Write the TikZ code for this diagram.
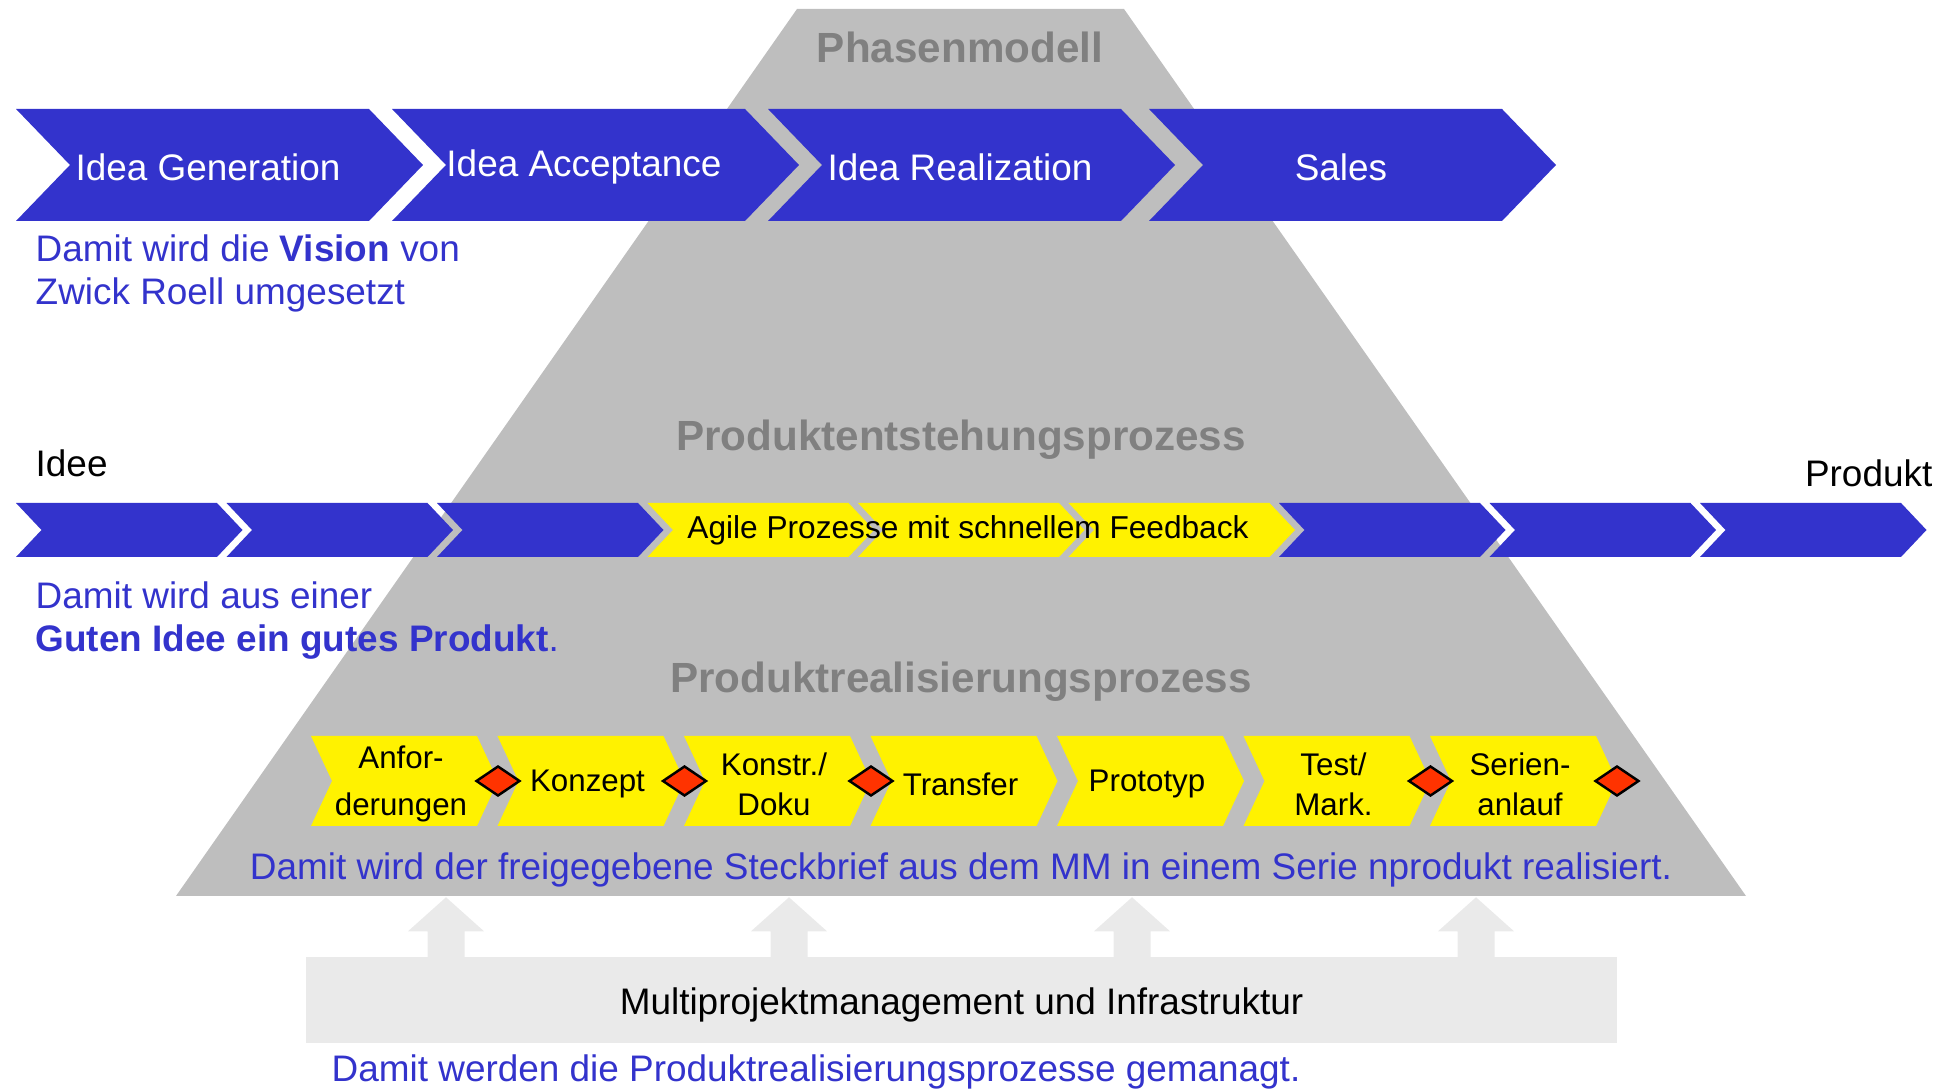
\documentclass[tikz,border=0pt]{standalone}
\usepackage{fontspec}
\setmainfont{Liberation Sans}
\usetikzlibrary{shapes.geometric}

\definecolor{chevblue}{RGB}{51,51,204}
\definecolor{pyrgray}{RGB}{190,190,190}
\definecolor{headgray}{RGB}{128,128,128}
\definecolor{mpmgray}{RGB}{234,234,234}
\definecolor{msred}{RGB}{255,51,0}

% chevron: colour, left x, top y, width, height, tip depth
\newcommand{\chevronpath}[6]{%
  \fill[#1] (#2,#3) -- ++(#4,0) -- ++(#6,#5/2) -- ++(-#6,#5/2)
            -- ++(-#4,0) -- ++(#6,-#5/2) -- cycle;}

\begin{document}
\begin{tikzpicture}[x=0.01cm, y=-0.01cm,
every node/.style = {inner sep=0pt},
headtext/.style  = {font=\fontsize{12}{14}\selectfont\bfseries, text=headgray},
notetext/.style  = {font=\fontsize{10.5}{12.5}\selectfont, text=chevblue, align=left},
plaintext/.style = {font=\fontsize{10.5}{12.5}\selectfont},
stagetext/.style = {font=\fontsize{8.9}{11.3}\selectfont, align=center},
milestone/.style = {diamond, draw, fill=msred, line width=0.7pt,
                    minimum width=0.44cm, minimum height=0.3cm}
                    ]
\useasboundingbox (0,0) rectangle (1957,1089);
% pyramid
\fill[pyrgray] (176,896) -- (797,9) -- (1124,9) -- (1746,896) -- cycle;
\node[headtext, anchor=base] (phasen) at (960,63) {Phasenmodell};
\node[headtext, anchor=base] (pep) at (961,451) {Produktentstehungsprozess};
\node[headtext, anchor=base] (prp) at (961,693) {Produktrealisierungsprozess};
%
% phase model
\foreach \x/\t [count=\i] in {16/Idea Generation, 392/Idea Acceptance,
                              768/Idea Realization, 1149/Sales}
  {\chevronpath{chevblue}{\x}{109}{353}{112}{54}
   \node[plaintext, text=white] (phase\i) at (\x+192,167) {\t};}
\node[notetext, anchor=base west] (vision) at (35,305)
     {Damit wird die \textbf{Vision} von\\Zwick Roell umgesetzt};
%
% product development
\foreach \i in {0,1,2,6,7,8}
  \chevronpath{chevblue}{16+210.5*\i}{503}{201}{54}{25.5};
\foreach \i in {3,4,5}
  \chevronpath{yellow}{16+210.5*\i}{503}{201}{54}{25.5};
\node[font=\fontsize{9}{11}\selectfont] (agile) at (968,530)
     {Agile Prozesse mit schnellem Feedback};
\node[plaintext, anchor=base west] (idee) at (35,477) {Idee};
\node[plaintext, anchor=base east] (produkt) at (1933,487) {Produkt};
\node[notetext, anchor=base west] (gutes) at (35,652)
     {Damit wird aus einer\\\textbf{Guten Idee ein gutes Produkt}.};
%
% product realization
\foreach \t [count=\i from 0] in {Anfor-\\[2pt]derungen, Konzept, Konstr./\\Doku,
                 Transfer, Prototyp, Test/\\Mark., Serien-\\anlauf}
  {\chevronpath{yellow}{311+186.5*\i}{736}{166}{90}{21}
   \node[stagetext] (stage\i) at (311+186.5*\i+90,784) {\t};}
\foreach \i in {0,1,2,5,6}
  \node[milestone] (ms\i) at (311+186.5*\i+187,781) {};
\node[notetext, anchor=base] (steckbrief) at (961,880)
     {Damit wird der freigegebene Steckbrief aus dem MM in einem Serie nprodukt realisiert.};
%
% multi project management
\node[plaintext, fill=mpmgray, minimum width=13.11cm, minimum height=0.86cm,
      text height=8.5pt, text depth=0pt] (mpm) at (961.5,1000)
     {Multiprojektmanagement und Infrastruktur};
\foreach \x in {446,789,1132,1476}
  \fill[mpmgray] (mpm.north -| \x,0) ++(-18.5,3) -- ++(0,-28) -- ++(-19.5,0)
       -- ++(38,-34) -- ++(38,34) -- ++(-19.5,0) -- ++(0,28) -- cycle;
\node[notetext, anchor=base west] (gemanagt) at (331,1082)
     {Damit werden die Produktrealisierungsprozesse gemanagt.};
\end{tikzpicture}
\end{document}
